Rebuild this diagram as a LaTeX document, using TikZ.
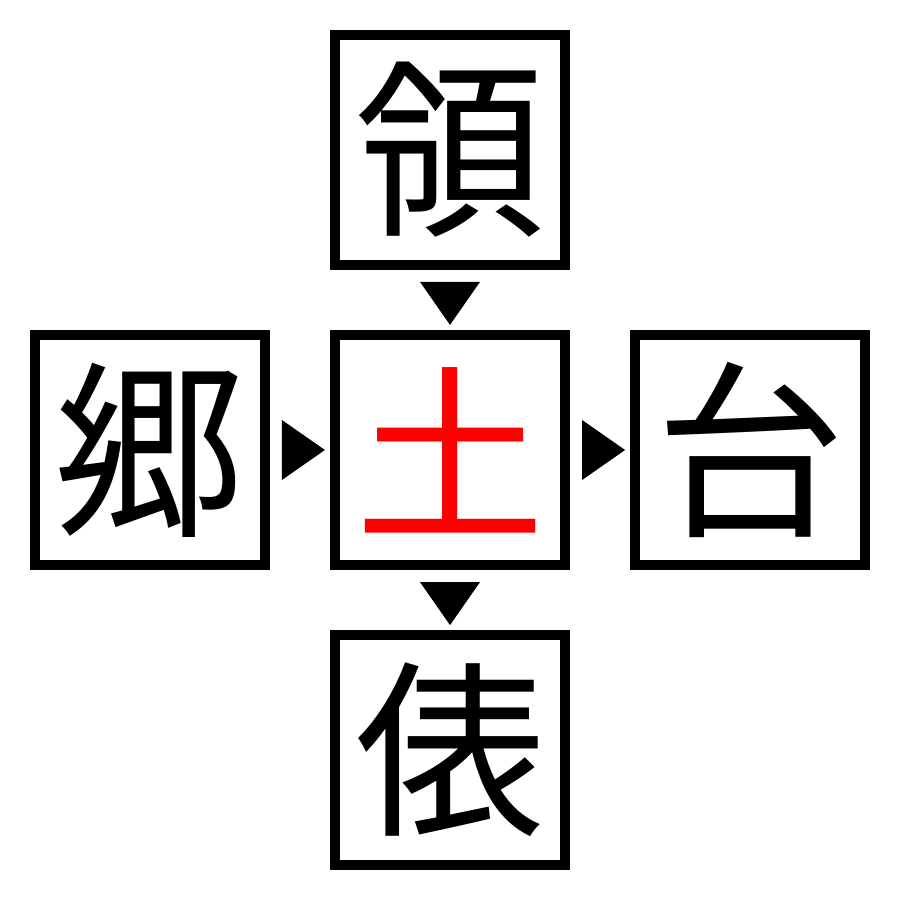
\documentclass[tikz,border=0pt]{standalone}
\usepackage{fontspec}
\newfontfamily\cjk{Noto Sans CJK JP}
\usetikzlibrary{positioning,calc}
\definecolor{KeyClr}{RGB}{255,0,0}
\definecolor{BoxClr}{RGB}{0,0,0}

\begin{document}
\begin{tikzpicture}[x=0.01cm,y=0.01cm,
  charbox/.style={draw=BoxClr,line width=0.1cm,minimum size=2.3cm,inner sep=0pt,
    font=\cjk\fontsize{54}{54}\selectfont},
  tip/.style={fill=BoxClr}]
\useasboundingbox (0,0) rectangle (900,900);

\node[charbox] (C) at (450,450) {\textcolor{KeyClr}{土}};
\node[charbox,above=0.6cm of C] (N) {領};
\node[charbox,below=0.6cm of C] (S) {俵};
\node[charbox,left=0.6cm of C] (W) {郷};
\node[charbox,right=0.6cm of C] (E) {台};

% arrow tips between the boxes
\foreach \a/\b/\r in {N/C/-90,C/S/-90,W/C/0,C/E/0}
  \fill[tip,shift={($(\a.center)!0.5!(\b.center)$)},rotate=\r]
    (-18,30) -- (25,0) -- (-18,-30) -- cycle;

\end{tikzpicture}
\end{document}
